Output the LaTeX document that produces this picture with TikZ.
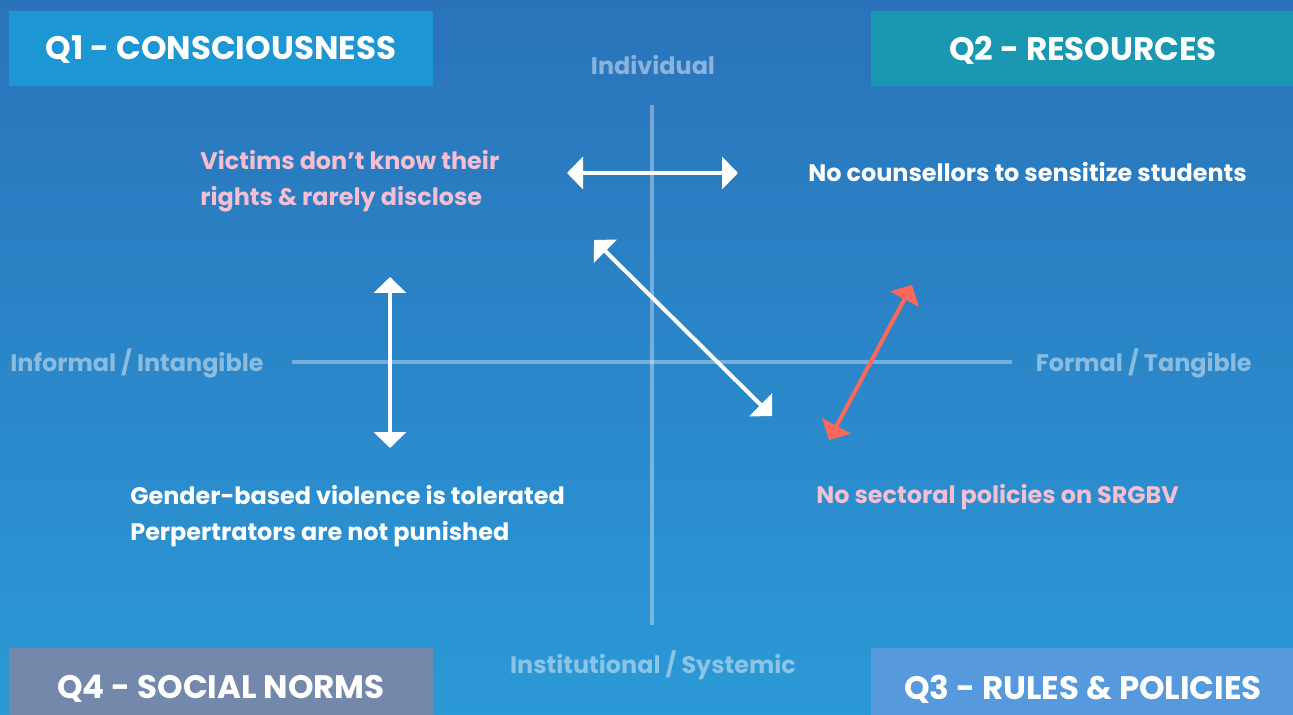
\documentclass[tikz,border=0pt]{standalone}
\usepackage{fontspec}
\setmainfont{Poppins}
\usepackage{xcolor}
\usetikzlibrary{positioning,arrows.meta}

\definecolor{bgtop}{HTML}{2A73BA}
\definecolor{bgbottom}{HTML}{2B99D6}
\definecolor{qone}{HTML}{1D96D4}
\definecolor{qtwo}{HTML}{1B98B1}
\definecolor{qthree}{HTML}{5699DC}
\definecolor{qfour}{HTML}{7388AB}
\definecolor{pinktext}{HTML}{F4BFD3}
\definecolor{redarrow}{HTML}{FB675A}

\tikzset{
    quadbox/.style={inner sep=0pt, text=white, font=\fontsize{18.5}{22}\selectfont\bfseries},
    axislabel/.style={text=white, text opacity=0.45, font=\fontsize{13.6}{16}\selectfont\bfseries, inner sep=0pt},
    note/.style={font=\fontsize{13.6}{20.5}\selectfont\bfseries, align=left, inner sep=0pt},
    twoway/.style={line width=2.3pt, {Triangle[length=0.32cm,width=0.64cm]}-{Triangle[length=0.32cm,width=0.64cm]}},
}

\begin{document}
\begin{tikzpicture}[x=0.02cm, y=-0.02cm]
    \useasboundingbox (0,0) rectangle (1293,715);
    \shade[top color=bgtop, bottom color=bgbottom] (0,0) rectangle (1293,715);

    % Quadrant boxes
    \fill[qone] (9,11) rectangle (433,86);
    \fill[qtwo] (871,11) rectangle (1293,86);
    \fill[qfour] (9,648) rectangle (433,715);
    \fill[qthree] (871,648) rectangle (1293,715);
    \node[quadbox] (q1) at (221,50) {Q1 - CONSCIOUSNESS};
    \node[quadbox] (q2) at (1083,50) {Q2 - RESOURCES};
    \node[quadbox] (q4) at (221,689) {Q4 - SOCIAL NORMS};
    \node[quadbox] (q3) at (1083,689) {Q3 - RULES \& POLICIES};

    % Axes
    \coordinate (top) at (652,105);
    \coordinate (bottom) at (652,625);
    \coordinate (left) at (292,362);
    \coordinate (right) at (1012,362);
    \draw[white, opacity=0.35, line width=2.6pt] (top) -- (bottom);
    \draw[white, opacity=0.35, line width=2.6pt] (left) -- (right);
    \node[axislabel] (individual) at (653,65) {Individual};
    \node[axislabel, anchor=west] (informal) at (10,363) {Informal / Intangible};
    \node[axislabel, anchor=east] (formal) at (1252,363) {Formal / Tangible};
    \node[axislabel] (institutional) at (653,665) {Institutional / Systemic};

    % Statements
    \node[note, text=pinktext, anchor=west] (victims) at (200,181) {Victims don’t know their\\rights \& rarely disclose};
    \node[note, text=white, anchor=west] (counsellors) at (808,172) {No counsellors to sensitize students};
    \node[note, text=white, anchor=west] (violence) at (130,516) {Gender-based violence is tolerated\\Perpertrators are not punished};
    \node[note, text=pinktext, anchor=west] (sectoral) at (816,497) {No sectoral policies on SRGBV};

    % Arrows
    \coordinate (h1) at (567,173);
    \coordinate (h2) at (738,173);
    \coordinate (d1) at (594,240);
    \coordinate (d2) at (772,416);
    \coordinate (v1) at (390,277);
    \coordinate (v2) at (390,448);
    \coordinate (r1) at (912,285);
    \coordinate (r2) at (829,440);
    \draw[twoway, white] (h1) -- (h2);
    \draw[twoway, white] (d1) -- (d2);
    \draw[twoway, white] (v1) -- (v2);
    \draw[twoway, redarrow] (r1) -- (r2);
\end{tikzpicture}
\end{document}
